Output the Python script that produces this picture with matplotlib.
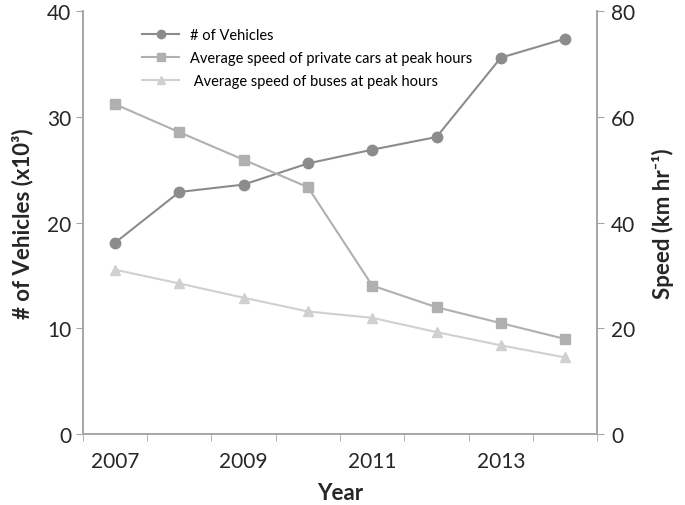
import numpy as np
import matplotlib.pyplot as plt

years = [2007, 2008, 2009, 2010, 2011, 2012, 2013, 2014]
vehicles = [18.1, 22.9, 23.6, 25.6, 26.9, 28.1, 35.6, 37.4]
car_speed = [62.4, 57.1, 51.9, 46.7, 28.1, 24.0, 21.0, 18.0]
bus_speed = [31.1, 28.5, 25.8, 23.2, 22.0, 19.3, 16.8, 14.5]

plt.rcParams['font.family'] = ['Lato', 'DejaVu Sans']
axis_col = "#a6a6a6"
txt_col = "#262626"

fig = plt.figure(figsize=(6.85, 5.06), dpi=100)
ax = fig.add_axes([0.121, 0.140, 0.751, 0.836])
ax2 = ax.twinx()

x = np.arange(len(years))
l1, = ax.plot(x, vehicles, color="#8c8c8c", marker="o", markersize=7.5, lw=1.5,
              label="# of Vehicles")
l2, = ax2.plot(x, car_speed, color="#b0b0b0", marker="s", markersize=7.5, lw=1.5,
               label="Average speed of private cars at peak hours")
l3, = ax2.plot(x, bus_speed, color="#d0d0d0", marker="^", markersize=7.5, lw=1.5,
               label=" Average speed of buses at peak hours")

ax.set_xlim(-0.5, len(years) - 0.5)
ax.set_ylim(0, 40)
ax2.set_ylim(0, 80)
ax.set_yticks([0, 10, 20, 30, 40])
ax2.set_yticks([0, 20, 40, 60, 80])
ax.set_xticks(x[::2])
ax.set_xticklabels([str(y) for y in years[::2]])
ax.set_xticks(np.arange(-0.5, len(years), 1), minor=True)
ax.tick_params(axis="x", which="major", length=0, pad=12)
ax.tick_params(axis="x", which="minor", length=5, color=axis_col)

for a in (ax, ax2):
    a.spines["top"].set_visible(False)
    for s in ("left", "right", "bottom"):
        a.spines[s].set_color(axis_col)
        a.spines[s].set_linewidth(1.2)
    a.tick_params(axis="y", length=5, color=axis_col, labelsize=15, labelcolor=txt_col)
ax.tick_params(axis="x", labelsize=15, labelcolor=txt_col)
ax2.tick_params(axis="y", pad=5)

ax.set_xlabel("Year", fontsize=16, fontweight="bold", color=txt_col, labelpad=8)
ax.set_ylabel("# of Vehicles (x10³)", fontsize=16, fontweight="bold", color=txt_col, labelpad=10)
ax2.set_ylabel("Speed (km hr⁻¹)", fontsize=16, fontweight="bold", color=txt_col,
               rotation=90, labelpad=12)

ax.legend(handles=[l1, l2, l3], loc="upper left", bbox_to_anchor=(0.09, 0.99),
          frameon=False, fontsize=10.5, handlelength=2.5, labelspacing=0.6,
          markerscale=0.8)

fig.savefig("out.png", dpi=100)
